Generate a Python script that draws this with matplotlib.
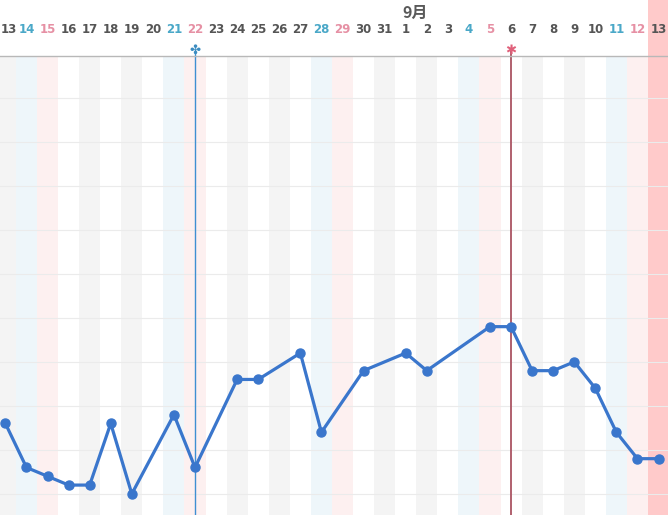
import matplotlib
matplotlib.use("Agg")
import matplotlib.pyplot as plt
import numpy as np

plt.rcParams['font.family'] = ['DejaVu Sans', 'Noto Sans CJK JP']

# Day labels (Aug 13 .. Sep 13)
day_labels = ['13','14','15','16','17','18','19','20','21','22','23','24','25','26','27','28','29','30','31',
              '1','2','3','4','5','6','7','8','9','10','11','12','13']
# column type: g=gray, w=white, s=saturday(blue), h=sunday(pink), t=today
col_types = ['g','s','h','w','g','w','g','w','s','h','w','g','w','g','w','s','h','w','g',
             'w','g','w','s','h','w','g','w','g','w','s','h','t']
# temperatures (None = no measurement)
temps = [36.36, 36.26, 36.24, 36.22, 36.22, 36.36, 36.20, None, 36.38, 36.26, None, 36.46, 36.46, None,
         36.52, 36.34, None, 36.48, None, 36.52, 36.48, None, None, 36.58, 36.58, 36.48, 36.48, 36.50,
         36.44, 36.34, 36.28, 36.28]
month_label = '9月'
month_index = 19.45
line_blue_index = 9
line_red_index = 24

fig = plt.figure(figsize=(6.68, 5.15), dpi=100)
ax = fig.add_axes([0, 0, 1, 1 - 56/515])
ax.set_xlim(-0.256, 31.45)
ax.set_ylim(36.152, 37.195)

bg = {'g': '#f4f4f4', 'w': '#ffffff', 's': '#eef6fa', 'h': '#fdf0f0', 't': '#ffcaca'}
for i, t in enumerate(col_types):
    if t == 't':
        ax.axvspan(i - 0.5, i + 0.5, ymin=0, ymax=1 + 56/459, color=bg[t], zorder=0, lw=0, clip_on=False)
    else:
        ax.axvspan(i - 0.5, i + 0.5, color=bg[t], zorder=0, lw=0)

for yv in np.arange(36.2, 37.15, 0.1):
    ax.axhline(yv, color='#ebebeb', lw=0.8, zorder=1)

# vertical markers
ax.axvline(line_blue_index, ymax=1 + 6/459, color='#3f8fd2', lw=1.0, zorder=2, clip_on=False)
ax.axvline(line_red_index, ymax=1 + 6/459, color='#b0606e', lw=1.4, zorder=2, clip_on=False)
ax.text(line_blue_index, 1.013, '✤', transform=ax.get_xaxis_transform(), ha='center', va='center',
        color='#3b8cc0', fontsize=9.5, zorder=5, clip_on=False)
ax.text(line_red_index, 1.013, '✱', transform=ax.get_xaxis_transform(), ha='center', va='center',
        color='#e0607a', fontsize=9.5, zorder=5, clip_on=False)

# data line
xs = [i for i, v in enumerate(temps) if v is not None]
ys = [v for v in temps if v is not None]
ax.plot(xs, ys, color='#3a76cc', lw=2.3, marker='o', ms=6.5, zorder=4, clip_on=False)

# header labels
label_colors = {'g': '#555555', 'w': '#555555', 's': '#4aa8c8', 'h': '#e690a4', 't': '#555555'}
for i, (lab, t) in enumerate(zip(day_labels, col_types)):
    if i == 0:
        ax.text(0.001, 1 + 26/459, lab, transform=ax.transAxes, ha='left', va='center',
                color=label_colors[t], fontsize=8.5, fontweight='bold', clip_on=False)
    else:
        ax.text(i, 1 + 26/459, lab, transform=ax.get_xaxis_transform(), ha='center', va='center',
                color=label_colors[t], fontsize=8.5, fontweight='bold', clip_on=False)
ax.text(month_index, 1 + 43/459, month_label, transform=ax.get_xaxis_transform(), ha='center',
        va='center', color='#5a5a5a', fontsize=11.5, fontweight='bold', clip_on=False,
        family=['Noto Sans CJK JP', 'DejaVu Sans'])

for s in ['left', 'right', 'bottom']:
    ax.spines[s].set_visible(False)
ax.spines['top'].set_color('#b8b8b8')
ax.spines['top'].set_linewidth(1.0)
ax.set_xticks([])
ax.set_yticks([])

fig.savefig('out.png', dpi=100)
